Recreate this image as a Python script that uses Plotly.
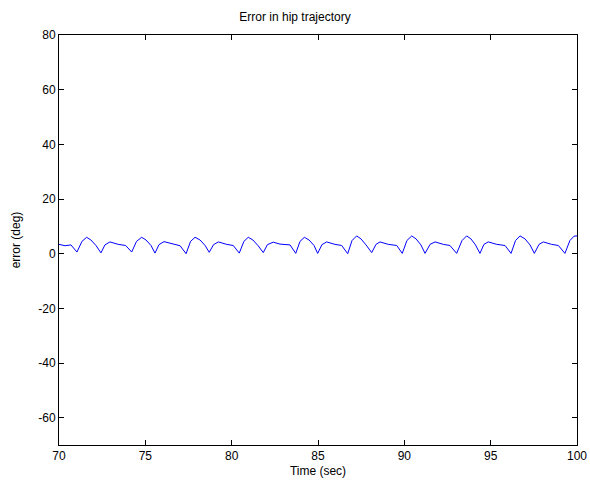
import plotly.graph_objects as go

time_sec = [
    70.00, 70.35, 70.69, 71.04, 71.33, 71.60, 71.85, 72.14, 72.43, 72.66, 72.95, 73.43, 73.86,
    74.21, 74.49, 74.79, 75.04, 75.33, 75.56, 75.79, 76.08, 76.62, 77.01,
    77.36, 77.62, 77.88, 78.17, 78.46, 78.70, 78.95, 79.23, 79.71, 80.09,
    80.44, 80.71, 80.96, 81.23, 81.52, 81.83, 82.07, 82.41, 82.80, 83.38,
    83.71, 83.96, 84.21, 84.48, 84.77, 84.98, 85.23, 85.50, 85.98, 86.37,
    86.72, 86.97, 87.24, 87.49, 87.78, 88.11, 88.36, 88.59, 89.07, 89.56,
    89.88, 90.15, 90.43, 90.68, 90.96, 91.20, 91.49, 91.78, 92.26, 92.64,
    93.03, 93.34, 93.61, 93.86, 94.12, 94.38, 94.61, 94.86, 95.35, 95.83,
    96.18, 96.44, 96.70, 96.99, 97.28, 97.53, 97.80, 98.05, 98.53, 98.92,
    99.30, 99.59, 99.83, 100.00,
]
error_deg = [
    3.4, 2.9, 3.2, 0.6, 4.5, 6.0, 5.0, 3.0, 0.3, 3.2, 4.3, 3.4, 3.0,
    0.6, 4.5, 6.0, 5.0, 3.0, 0.2, 3.3, 4.4, 3.4, 2.9,
    0.0, 4.5, 6.0, 5.0, 3.0, 0.5, 3.3, 4.3, 3.4, 3.0,
    0.2, 4.5, 6.0, 5.0, 3.0, 0.4, 3.3, 4.2, 3.5, 3.2,
    0.1, 4.5, 6.0, 5.0, 3.0, 0.1, 3.3, 4.3, 3.4, 3.0,
    0.0, 4.8, 6.5, 5.4, 3.2, 0.4, 3.4, 4.3, 3.4, 3.0,
    0.1, 4.8, 6.5, 5.4, 3.2, 0.1, 3.4, 4.3, 3.4, 3.0,
    0.1, 4.8, 6.5, 5.4, 3.2, 0.1, 3.4, 4.3, 3.4, 3.0,
    0.1, 4.8, 6.5, 5.4, 3.2, 0.1, 3.4, 4.3, 3.4, 3.0,
    0.1, 4.8, 6.4, 6.5,
]

x_ticks = [70, 75, 80, 85, 90, 95, 100]
y_ticks = [-60, -40, -20, 0, 20, 40, 60, 80]
y_tick_labels = ["-60", "-40", "-20", "0", "20", "40", "60", "80"]

fig = go.Figure()
fig.add_trace(go.Scatter(x=time_sec, y=error_deg, mode="lines",
                         line=dict(color="#0000ff", width=1), showlegend=False))

font = dict(family="Liberation Sans, Arial, sans-serif", size=12, color="black")
axis_common = dict(showline=True, linecolor="black", linewidth=1, mirror="ticks",
                   ticks="inside", ticklen=5, tickcolor="black", showgrid=False,
                   zeroline=False, tickfont=font, automargin=False)

fig.update_layout(
    width=590, height=487,
    margin=dict(l=59, r=13, t=35, b=42),
    paper_bgcolor="white", plot_bgcolor="white",
    font=font,
    title=dict(text="Error in hip trajectory", x=0.5, xanchor="center",
               y=1 - 17 / 487, yanchor="middle", font=dict(size=12),
               automargin=False),
    xaxis=dict(range=[70, 100], tickvals=x_ticks,
               title=dict(text="Time (sec)", standoff=4, font=font), **axis_common),
    yaxis=dict(range=[-70, 80], tickvals=y_ticks, ticktext=y_tick_labels,
               title=dict(text="error (deg)", standoff=15, font=font), **axis_common),
)

fig.write_html("out.html")
